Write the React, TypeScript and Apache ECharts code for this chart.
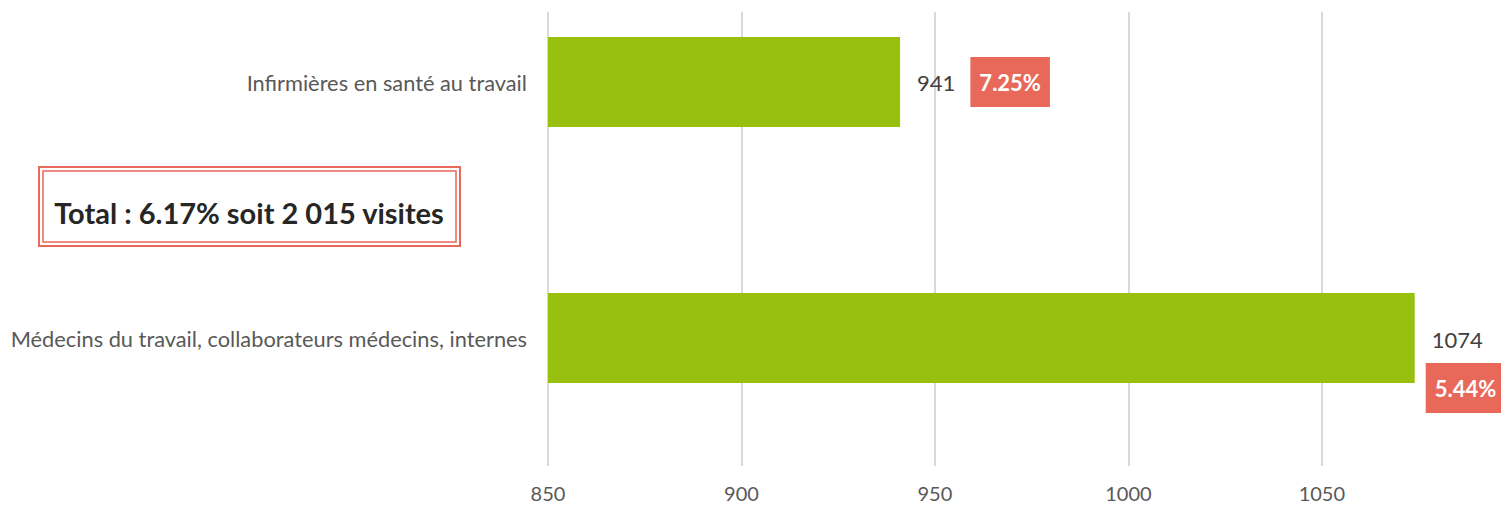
import React, { useEffect, useRef } from "react";
import * as echarts from "echarts";

const categories = [
  "Médecins du travail, collaborateurs médecins, internes",
  "Infirmières en santé au travail",
];
const visits = [1074, 941];
const shares = ["5.44%", "7.25%"];
const axisMin = 850;
const axisMax = 1096.3;
const axisStep = 50;
const totalText = "Total : 6.17% soit 2 015 visites";

const FONT = "Lato, 'Noto Sans', sans-serif";
const RED = "#E8685A";
const GREEN = "#98C00F";

export default function App() {
  const ref = useRef<HTMLDivElement>(null);
  useEffect(() => {
    if (!ref.current) return;
    const chart = echarts.init(ref.current, null, { renderer: "svg" });
    const data = visits.map((v, i) =>
      i === 0
        ? {
            value: v,
            label: {
              formatter: `{v|${v}}\n{s| }\n{p|${shares[i]}}`,
              distance: 11,
              offset: [0, 25],
            },
          }
        : {
            value: v,
            label: {
              formatter: `{w|${v}}{g|}{p|${shares[i]}}`,
              distance: 17,
            },
          }
    );
    chart.setOption({
      animation: false,
      grid: [
        { left: 548, right: 0, top: 12, bottom: 39 },
        { left: 548, right: 0, top: 82, height: 256 },
      ],
      xAxis: [
        {
          gridIndex: 0,
          type: "value",
          min: axisMin,
          max: axisMax,
          interval: axisStep,
          axisLine: { show: false },
          axisTick: { show: false },
          splitLine: {
            show: true,
            showMaxLine: false,
            lineStyle: { color: "#D9D9D9", width: 2 },
          },
          axisLabel: {
            showMaxLabel: false,
            margin: 17,
            color: "#595959",
            fontSize: 20,
            fontFamily: FONT,
            formatter: (v: number) => String(v),
          },
        },
        {
          gridIndex: 1,
          type: "value",
          min: axisMin,
          max: axisMax,
          show: false,
        },
      ],
      yAxis: [
        { gridIndex: 0, type: "category", data: categories, show: false },
        {
          gridIndex: 1,
          type: "category",
          data: categories,
          boundaryGap: false,
          axisLine: { show: false },
          axisTick: { show: false },
          splitLine: { show: false },
          axisLabel: {
            margin: 21,
            color: "#595959",
            fontSize: 21.8,
            fontFamily: FONT,
          },
        },
      ],
      series: [
        {
          type: "bar",
          xAxisIndex: 1,
          yAxisIndex: 1,
          barWidth: 90,
          itemStyle: { color: GREEN },
          data,
          label: {
            show: true,
            position: "right",
            align: "left",
            fontFamily: FONT,
            rich: {
              v: {
                color: "#404040",
                fontSize: 22,
                fontFamily: FONT,
                lineHeight: 24,
                align: "left",
                padding: [0, 0, 0, 6],
              },
              s: { fontSize: 10, lineHeight: 26 },
              w: { color: "#404040", fontSize: 22, fontFamily: FONT },
              g: { width: 15 },
              p: {
                color: "#fff",
                fontSize: 22,
                fontWeight: "bold",
                fontFamily: FONT,
                backgroundColor: RED,
                lineHeight: 22,
                align: "left",
                padding: [14, 9, 14, 9],
              },
            },
          },
        },
      ],
      graphic: [
        {
          type: "rect",
          shape: { x: 39, y: 167, width: 421, height: 79 },
          style: { fill: "#fff", stroke: RED, lineWidth: 2 },
        },
        {
          type: "rect",
          shape: { x: 43, y: 171, width: 413, height: 71 },
          style: { fill: "none", stroke: RED, lineWidth: 1.5 },
        },
        {
          type: "text",
          x: 249,
          y: 212,
          style: {
            text: totalText,
            fill: "#262626",
            fontSize: 29,
            fontWeight: "bold",
            fontFamily: FONT,
            textAlign: "center",
            textVerticalAlign: "middle",
          },
        },
      ],
    });
    return () => chart.dispose();
  }, []);
  return (
    <div
      ref={ref}
      style={{ position: "fixed", left: 0, top: 0, width: 1501, height: 505, background: "#fff" }}
    />
  );
}
